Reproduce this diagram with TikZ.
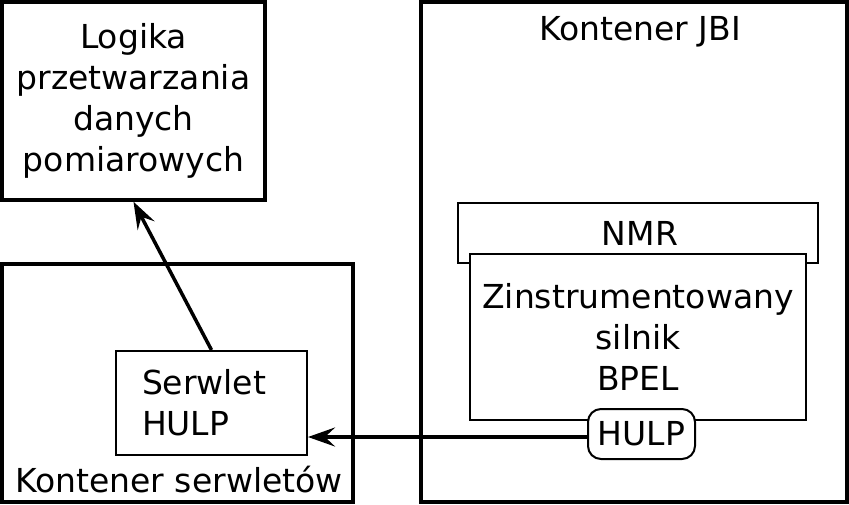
\documentclass[tikz,border=0pt]{standalone}
\usepackage{fontspec}
\setmainfont{DejaVu Sans}
\usetikzlibrary{arrows.meta}

\begin{document}
\begin{tikzpicture}[x=1pt,y=-1pt,
    every node/.style={font=\fontsize{33}{41}\selectfont, inner sep=0pt},
    bigbox/.style={draw, line width=3.5pt},
    smallbox/.style={draw, line width=2pt, fill=white},
    flow/.style={line width=3.5pt, -{Stealth[length=27pt,width=19pt,inset=10pt]}}]
      \useasboundingbox (0,0) rectangle (849,504);
      % containers
      \node[bigbox, minimum width=263pt, minimum height=198pt, align=center] (logika) at (133.5,101)
            {Logika\\przetwarzania\\danych\\pomiarowych};
      \node[bigbox, minimum width=351pt, minimum height=238pt] (serwlety) at (177.5,383) {};
      \node[bigbox, minimum width=426pt, minimum height=500pt] (jbi) at (634,252) {};
      \node[anchor=base] (serwletylbl) at (179,492) {Kontener serwletów};
      \node[anchor=base] (jbilbl) at (640,40) {Kontener JBI};
      % JBI components
      \node[smallbox, minimum width=360pt, minimum height=60pt] (nmr) at (638,233) {};
      \node (nmrlbl) at (640,233) {NMR};
      \node[smallbox, minimum width=336pt, minimum height=166pt, align=center] (silnik) at (638,337)
            {Zinstrumentowany\\silnik\\BPEL};
      \node[smallbox, rounded corners=13pt, minimum width=107pt, minimum height=50pt] (hulp) at (641.5,434) {HULP};
      % servlet
      \node[smallbox, minimum width=191pt, minimum height=104pt, text width=139pt, inner xsep=26pt, align=left] (serwlet) at (211.5,403)
            {Serwlet\\HULP};
      % connections
      \draw[flow] (serwlet.north) -- (logika.south);
      \draw[flow] ([yshift=-3pt]hulp.west) -- ([yshift=-3pt]hulp.west -| serwlet.east);
\end{tikzpicture}
\end{document}
